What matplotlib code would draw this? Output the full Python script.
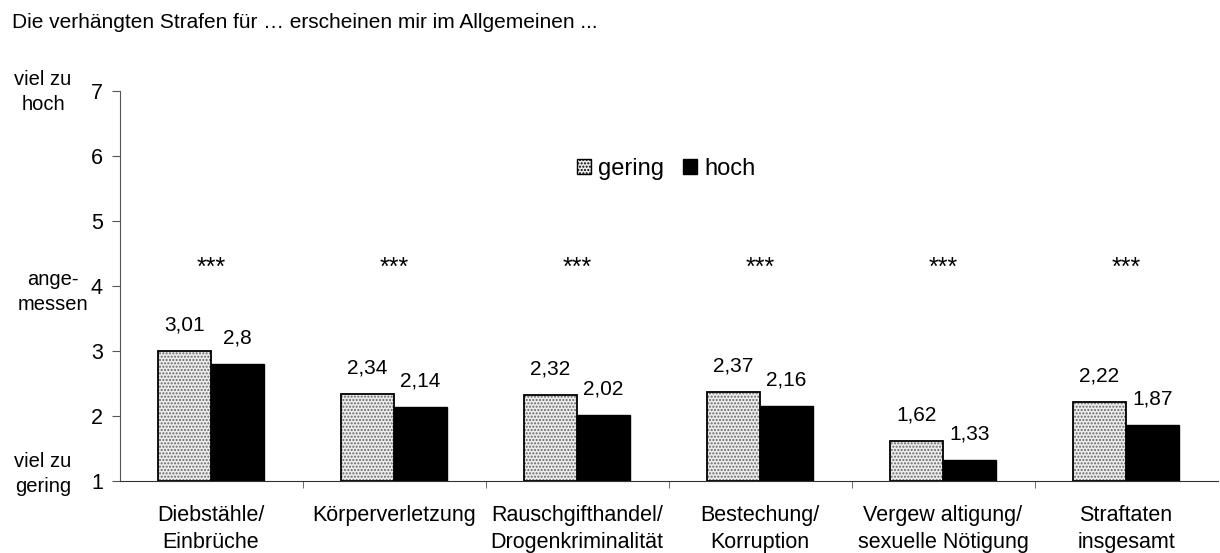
import numpy as np
import matplotlib.pyplot as plt
from matplotlib.patches import Patch

plt.rcParams['font.family'] = ['Liberation Sans', 'DejaVu Sans']

# Daten
categories = ["Diebstähle/\nEinbrüche", "Körperverletzung", "Rauschgifthandel/\nDrogenkriminalität",
              "Bestechung/\nKorruption", "Vergew altigung/\nsexuelle Nötigung", "Straftaten\ninsgesamt"]
gering = [3.01, 2.34, 2.32, 2.37, 1.62, 2.22]
hoch = [2.8, 2.14, 2.02, 2.16, 1.33, 1.87]
gering_labels = ["3,01", "2,34", "2,32", "2,37", "1,62", "2,22"]
hoch_labels = ["2,8", "2,14", "2,02", "2,16", "1,33", "1,87"]
signif = ["***"] * 6

fig = plt.figure(figsize=(12.2, 5.53), dpi=100)
ax = fig.add_axes([0.098, 0.130, 0.900, 0.705])

x = np.arange(len(categories))
w = 0.29

# gepunktete Balken: erst Schraffur in grau, dann schwarzer Rand
ax.bar(x - w/2, np.array(gering) - 1, w, bottom=1, color="#ececec", edgecolor="#666666",
       hatch=".....", linewidth=0)
ax.bar(x - w/2, np.array(gering) - 1, w, bottom=1, fill=False, edgecolor="black", linewidth=1.3)
ax.bar(x + w/2, np.array(hoch) - 1, w, bottom=1, color="black", edgecolor="black", linewidth=1)

for i in range(len(categories)):
    ax.text(x[i] - w/2, gering[i] + 0.40, gering_labels[i], ha="center", va="center", fontsize=15)
    ax.text(x[i] + w/2, hoch[i] + 0.40, hoch_labels[i], ha="center", va="center", fontsize=15)
    ax.text(x[i], 4.28, signif[i], ha="center", va="center", fontsize=18)

ax.set_xlim(-0.5, len(categories) - 0.5)
ax.set_ylim(1, 7)
ax.set_yticks(range(1, 8))
ax.tick_params(axis="y", labelsize=15.5, length=6, color="#555555", pad=6)
ax.set_xticks(x)
ax.set_xticklabels(categories, fontsize=15.5, linespacing=1.4)
ax.tick_params(axis="x", which="major", length=0, pad=17)
ax.set_xticks(x[:-1] + 0.5, minor=True)
ax.tick_params(axis="x", which="minor", length=5, color="#555555")

for s in ["top", "right"]:
    ax.spines[s].set_visible(False)
ax.spines["left"].set_color("#555555")
ax.spines["bottom"].set_color("#333333")

# Beschriftung der Skala
fig.text(43/1220, 1 - 92/553, "viel zu\nhoch", ha="center", va="center", fontsize=14.5, linespacing=1.45)
fig.text(53/1220, 1 - 292/553, "ange-\nmessen", ha="center", va="center", fontsize=14.5, linespacing=1.45)
fig.text(43/1220, 1 - 474/553, "viel zu\ngering", ha="center", va="center", fontsize=14.5, linespacing=1.45)

fig.text(12/1220, 1 - 22/553, "Die verhängten Strafen für … erscheinen mir im Allgemeinen ...", ha="left",
         va="center", fontsize=15)

handles = [Patch(facecolor="#ececec", edgecolor="black", hatch="....."),
           Patch(facecolor="black", edgecolor="black")]
ax.legend(handles, ["gering", "hoch"], loc="center", bbox_to_anchor=(0.498, 0.80), ncol=2, frameon=False,
          fontsize=17, handlelength=0.6, handleheight=0.6, handletextpad=0.3, columnspacing=0.8)

plt.savefig("out.png", dpi=100)
